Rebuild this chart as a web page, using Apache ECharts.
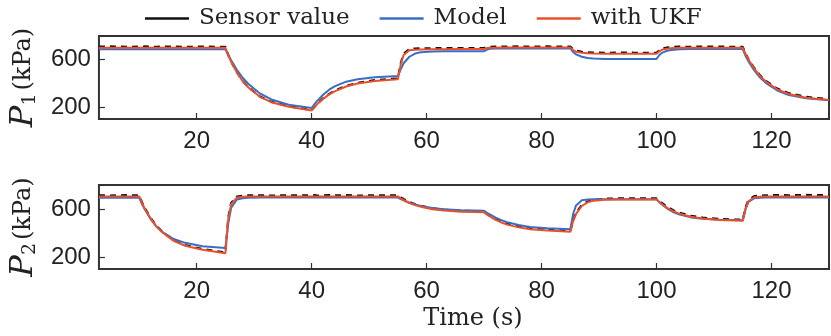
<!DOCTYPE html>
<html>
<head>
<meta charset="utf-8">
<script src="https://cdn.jsdelivr.net/npm/echarts@6/dist/echarts.min.js"></script>
<style>
  html, body { margin: 0; padding: 0; background: #fff; }
  #chart { width: 831px; height: 336px; }
</style>
</head>
<body>
<div id="chart"></div>
<script>
// time stamps (s)
const time = [3, 5, 8,
  10, 10.5, 11, 12, 13, 14, 16, 18, 21,
  25, 25.5, 26, 27, 28, 29, 31, 33, 36,
  40, 40.5, 41, 42, 43, 44, 46, 48, 51,
  55, 55.5, 56, 57, 58, 59, 61, 63, 66,
  70, 70.5, 71, 72, 73, 74, 76, 78, 81,
  85, 85.5, 86, 87, 88, 89, 91, 93, 96,
  100, 100.5, 101, 102, 103, 104, 106, 108, 111,
  115, 115.5, 116, 117, 118, 119, 121, 123, 126,
  130]

// P1 (kPa)
const p1Sensor = [710, 712, 708,
  710, 708, 712, 710, 709, 711, 710, 708, 711,
  708, 640, 585, 495, 420, 368, 290, 245, 208,
  176, 204, 230, 274, 310, 338, 380, 405, 428,
  442, 570, 650, 690, 694, 696, 697, 698, 699,
  698, 706, 708, 710, 711, 710, 712, 710, 712,
  710, 688, 676, 666, 662, 660, 658, 660, 659,
  658, 680, 694, 704, 708, 710, 709, 711, 710,
  708, 650, 604, 530, 468, 422, 356, 318, 286,
  266]
const p1Model = [688, 688, 688,
  688, 688, 688, 688, 688, 688, 688, 688, 688,
  688, 640, 595, 515, 448, 395, 315, 265, 220,
  192, 225, 255, 305, 345, 375, 415, 435, 452,
  462, 520, 570, 625, 652, 663, 670, 672, 672,
  672, 685, 692, 695, 695, 695, 695, 695, 695,
  695, 665, 645, 625, 615, 610, 607, 607, 607,
  607, 640, 660, 678, 685, 688, 690, 690, 690,
  690, 630, 585, 510, 450, 405, 340, 302, 275,
  258]
const p1Ukf = [700, 700, 700,
  700, 700, 700, 700, 700, 700, 700, 700, 700,
  700, 636, 583, 493, 419, 366, 287, 242, 204,
  172, 201, 227, 270, 306, 333, 374, 399, 420,
  435, 560, 640, 680, 685, 686, 688, 688, 690,
  690, 698, 700, 700, 702, 702, 702, 702, 702,
  702, 680, 668, 658, 654, 652, 650, 650, 650,
  650, 672, 685, 695, 698, 700, 700, 700, 700,
  700, 646, 600, 525, 462, 416, 350, 311, 279,
  261]

// P2 (kPa)
const p2Sensor = [714, 712, 715,
  713, 655, 606, 526, 460, 412, 340, 300, 266,
  238, 530, 650, 704, 711, 713, 714, 712, 715,
  713, 715, 712, 714, 716, 713, 715, 712, 714,
  713, 696, 683, 658, 640, 626, 606, 595, 586,
  580, 560, 545, 517, 495, 477, 454, 440, 428,
  418, 508, 568, 633, 663, 676, 686, 688, 689,
  688, 666, 648, 613, 588, 568, 543, 528, 516,
  510, 618, 674, 707, 712, 714, 716, 714, 717,
  715]
const p2Model = [693, 693, 693,
  693, 640, 595, 515, 455, 410, 350, 318, 290,
  275, 480, 610, 680, 690, 693, 695, 695, 695,
  695, 695, 695, 695, 695, 695, 695, 695, 695,
  695, 683, 672, 652, 637, 625, 608, 598, 590,
  585, 568, 555, 528, 507, 490, 466, 450, 440,
  432, 560, 630, 672, 680, 682, 682, 682, 682,
  682, 655, 635, 598, 572, 553, 530, 518, 510,
  507, 600, 660, 690, 694, 695, 695, 695, 695,
  695]
const p2Ukf = [705, 705, 705,
  705, 648, 600, 520, 453, 406, 334, 294, 260,
  232, 520, 640, 695, 702, 704, 705, 705, 705,
  705, 705, 705, 705, 705, 705, 705, 705, 705,
  705, 688, 675, 650, 632, 618, 598, 587, 578,
  572, 553, 538, 510, 488, 470, 447, 432, 420,
  410, 500, 560, 625, 655, 668, 677, 680, 680,
  680, 658, 640, 605, 580, 560, 535, 520, 508,
  502, 610, 665, 698, 703, 705, 705, 705, 705,
  705]

const xTicks = [20, 40, 60, 80, 100, 120]
const yTicks = [200, 600]
const seriesNames = ['Sensor value', 'Model', 'with UKF']
const colors = ['#111111', '#3a6ec2', '#e9502c']

const pair = (ys) => time.map((t, i) => [t, ys[i]])

const ink = '#222'
const frame = '#333'

function xAxisFor(gridIndex, withName) {
  return {
    type: 'value', gridIndex, min: 3, max: 130,
    axisLine: { show: false },
    splitLine: { show: false },
    axisTick: { inside: true, length: 6, lineStyle: { color: frame, width: 1.2 }, customValues: xTicks },
    axisLabel: { customValues: xTicks, margin: 10, color: ink, fontFamily: 'Liberation Sans', fontSize: 24 },
    name: withName ? 'Time (s)' : '',
    nameLocation: 'middle', nameGap: 38,
    nameTextStyle: { fontFamily: 'DejaVu Serif', fontSize: 24, color: ink, padding: [0, 0, 0, 18] }
  }
}

function yAxisFor(gridIndex, sub) {
  return {
    type: 'value', gridIndex, min: 100, max: 800,
    axisLine: { show: false },
    splitLine: { show: false },
    axisTick: { inside: true, length: 6, lineStyle: { color: frame, width: 1.2 }, customValues: yTicks },
    axisLabel: { customValues: yTicks, margin: 8, color: ink, fontFamily: 'Liberation Sans', fontSize: 24 },
    name: '{p|P}{s|' + sub + '}{u|(kPa)}',
    nameLocation: 'middle', nameRotate: 90, nameGap: 58,
    nameTextStyle: {
      color: ink, fontFamily: 'DejaVu Serif', fontSize: 24,
      rich: {
        p: { fontFamily: 'DejaVu Serif', fontStyle: 'italic', fontSize: 32, color: ink },
        s: { fontFamily: 'DejaVu Serif', fontSize: 19, color: ink, padding: [12, 3, 0, 0] },
        u: { fontFamily: 'DejaVu Serif', fontSize: 24, color: ink }
      }
    }
  }
}

function lineSeries(k, ys, gridIndex) {
  return {
    type: 'line', name: seriesNames[k],
    xAxisIndex: gridIndex, yAxisIndex: gridIndex,
    data: pair(ys), showSymbol: false, symbol: 'none', animation: false,
    z: 2 + k,
    lineStyle: { color: colors[k], width: k === 0 ? 2.2 : 2, type: k === 0 ? [6, 5] : 'solid' },
    itemStyle: { color: colors[k] }
  }
}

const chart = echarts.init(document.getElementById('chart'))
chart.setOption({
  backgroundColor: '#fff',
  animation: false,
  legend: {
    data: seriesNames,
    left: 140, top: 2,
    icon: 'rect', itemWidth: 44, itemHeight: 2.5, itemGap: 30,
    textStyle: { fontFamily: 'DejaVu Serif', fontSize: 23, color: ink, padding: [0, 0, 0, 5] }
  },
  grid: [
    { left: 88, right: 2, top: 36, height: 83, show: true, borderColor: frame, borderWidth: 2, backgroundColor: 'transparent' },
    { left: 88, right: 2, top: 185, height: 84, show: true, borderColor: frame, borderWidth: 2, backgroundColor: 'transparent' }
  ],
  xAxis: [xAxisFor(0, false), xAxisFor(1, true)],
  yAxis: [yAxisFor(0, '1'), yAxisFor(1, '2')],
  series: [
    lineSeries(0, p1Sensor, 0),
    lineSeries(1, p1Model, 0),
    lineSeries(2, p1Ukf, 0),
    lineSeries(0, p2Sensor, 1),
    lineSeries(1, p2Model, 1),
    lineSeries(2, p2Ukf, 1)
  ]
})
</script>
</body>
</html>
